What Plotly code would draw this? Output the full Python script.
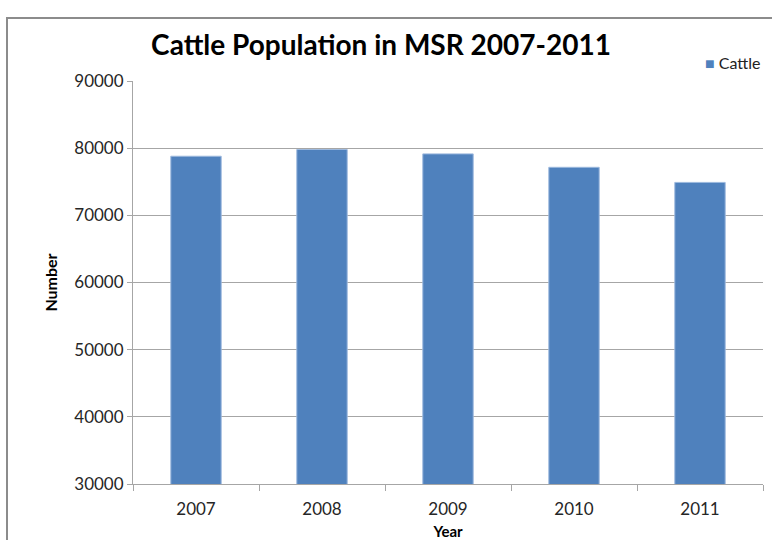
import plotly.graph_objects as go

# Cattle counts per year
years = ["2007", "2008", "2009", "2010", "2011"]
cattle = [78800, 79800, 79150, 77150, 74900]
y_ticks = [30000, 40000, 50000, 60000, 70000, 80000, 90000]
series_name = "Cattle"

W, H = 781, 540
L, R, T, B = 133, 18, 81, 56
pw, ph = W - L - R, H - T - B

def px_x(x):
    return (x - L) / pw

def px_y(y):
    return (H - B - y) / ph

font = "Lato, Calibri, sans-serif"
grid = "#a6a6a6"
bar_color = "#4f81bd"

fig = go.Figure()
fig.add_trace(go.Bar(
    x=years, y=cattle, name=series_name,
    marker=dict(color=bar_color, line=dict(color="#9db9de", width=1)),
))

fig.update_layout(
    width=W, height=H,
    margin=dict(l=L, r=R, t=T, b=B, autoexpand=False),
    paper_bgcolor="white", plot_bgcolor="white",
    bargap=0.6,
    showlegend=False,
    title=dict(text="<b>Cattle Population in MSR 2007-2011</b>",
               x=381 / W, xanchor="center",
               y=1 - 45 / H, yanchor="middle",
               font=dict(family=font, size=28, color="black")),
    xaxis=dict(
        automargin=False,
        showline=True, linecolor=grid, linewidth=1,
        ticks="outside", ticklen=6, tickcolor=grid, tickson="boundaries",
        ticklabelstandoff=10,
        tickfont=dict(family=font, size=17, color="#262626"),
        title=dict(text="<b>Year</b>", font=dict(family=font, size=15, color="black"), standoff=10),
        showgrid=False,
    ),
    yaxis=dict(
        automargin=False,
        range=[30000, 90000], tickvals=y_ticks, tickformat="d",
        showline=True, linecolor=grid, linewidth=1,
        ticks="outside", ticklen=5, tickcolor=grid,
        showgrid=True, gridcolor=grid, gridwidth=1,
        tickfont=dict(family=font, size=17, color="#262626"),
        title=dict(text="<b>Number</b>", font=dict(family=font, size=16, color="black"), standoff=12),
        zeroline=False,
    ),
)

# legend key: swatch plus series name
fig.add_annotation(
    xref="paper", yref="paper", x=px_x(703), y=px_y(62),
    xanchor="left", yanchor="middle", showarrow=False,
    text=f"<span style='color:{bar_color}'>■</span> {series_name}",
    font=dict(family=font, size=16, color="#222"),
)

# chart frame: left and top edges
frame = dict(color="#8c8c8c", width=2)
fig.add_shape(type="line", xref="paper", yref="paper",
              x0=px_x(7), x1=px_x(7), y0=px_y(18), y1=px_y(545), line=frame)
fig.add_shape(type="line", xref="paper", yref="paper",
              x0=px_x(6), x1=px_x(772), y0=px_y(18), y1=px_y(18), line=frame)

fig.write_html("out.html")
